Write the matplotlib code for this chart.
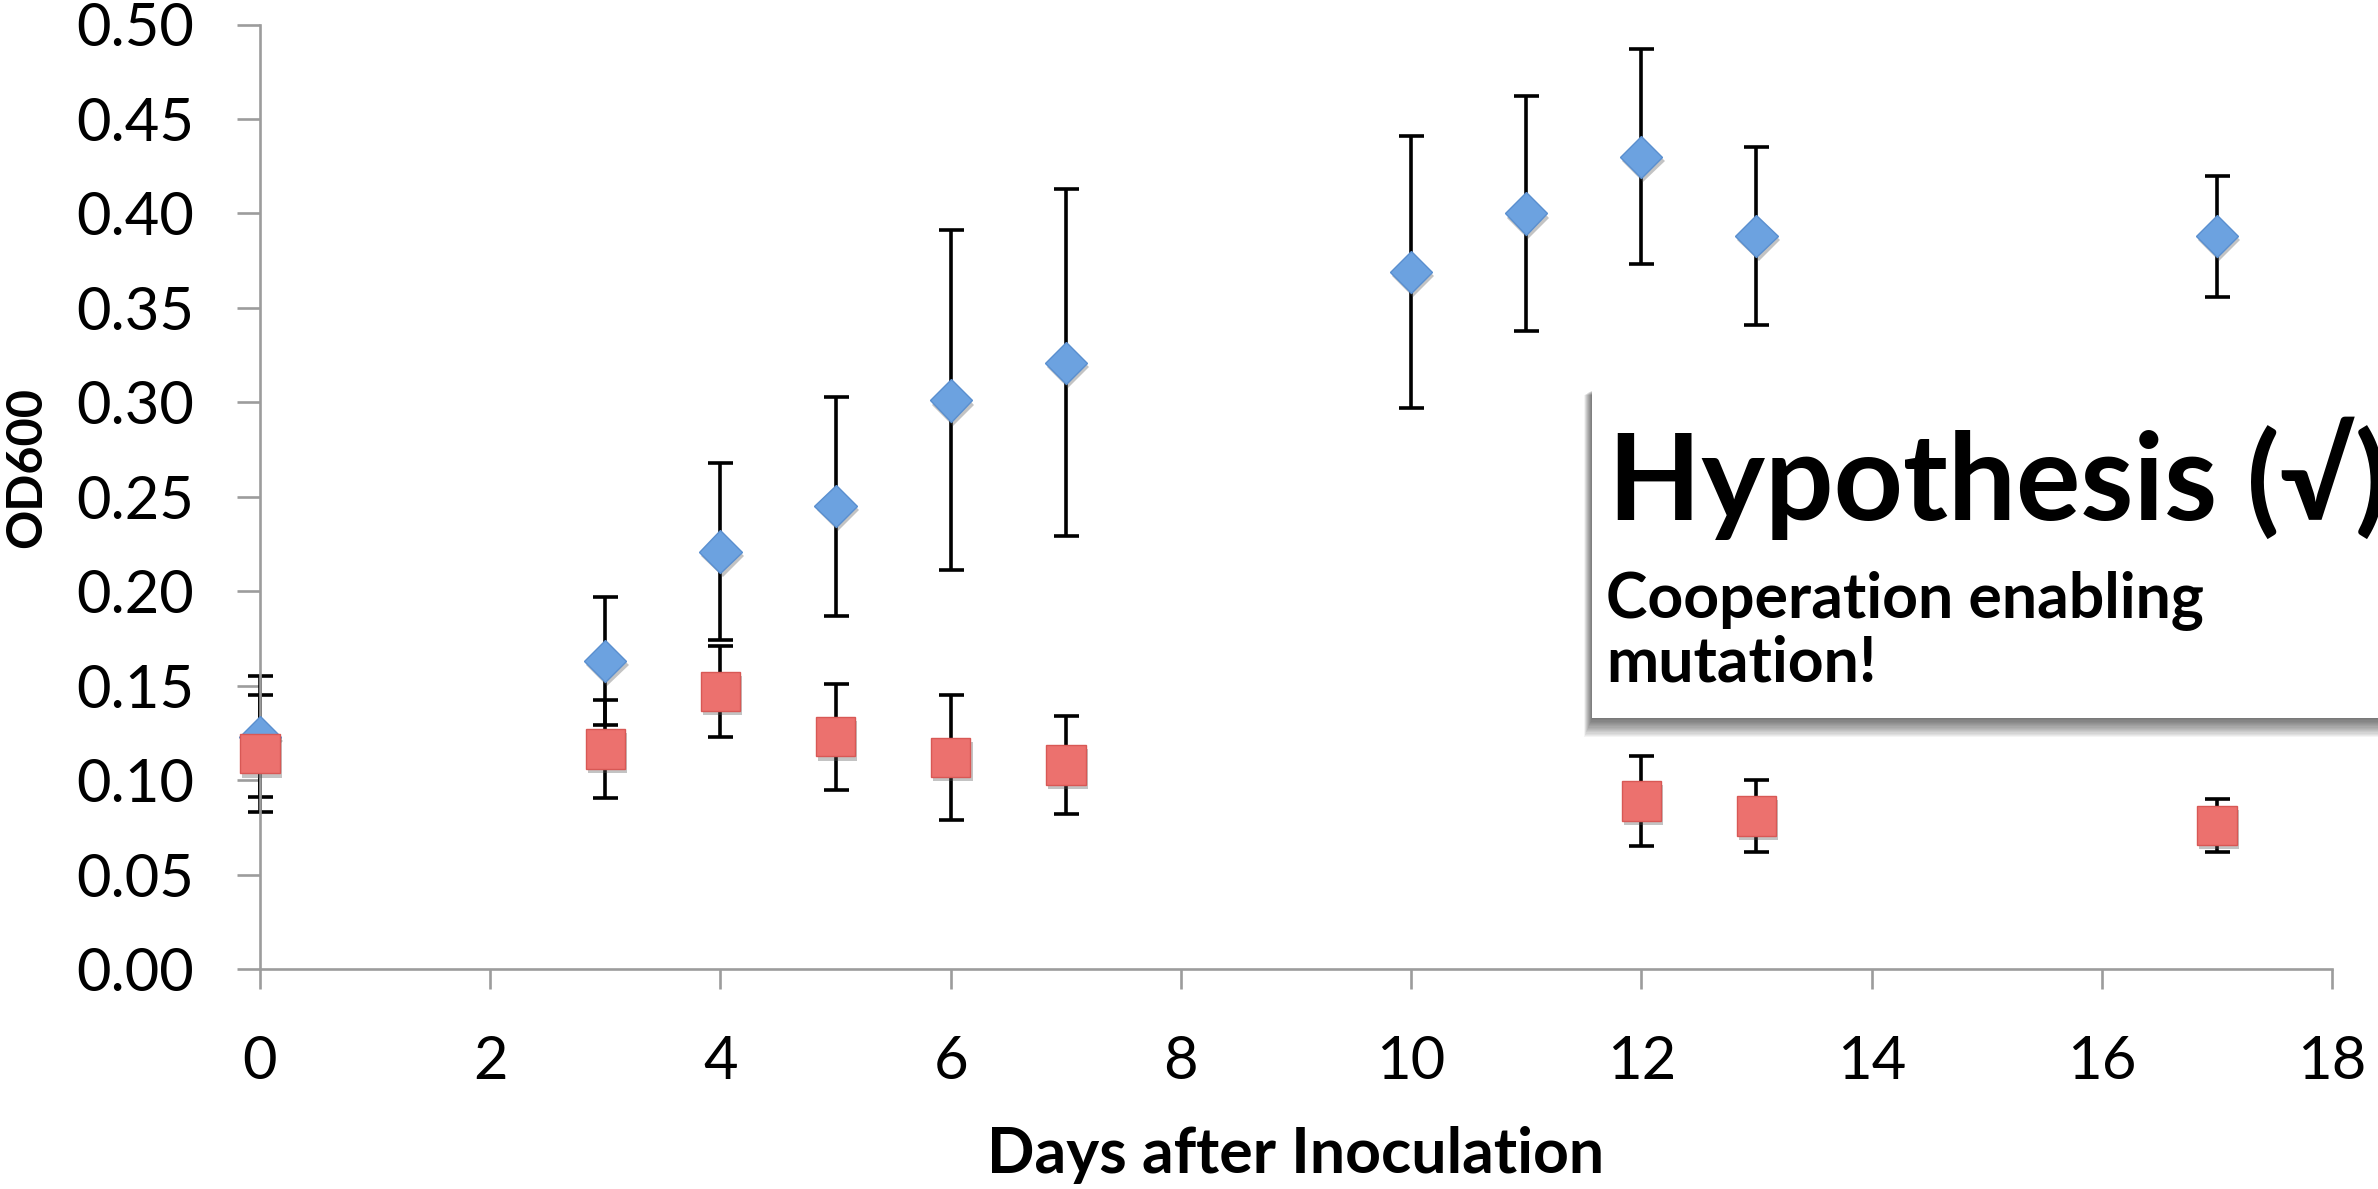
import matplotlib
matplotlib.use("Agg")
import matplotlib.pyplot as plt
import matplotlib.patheffects as pe
from matplotlib.patches import Rectangle

# ---- data ----
days_blue = [0, 3, 4, 5, 6, 7, 10, 11, 12, 13, 17]
od_blue = [0.123, 0.163, 0.221, 0.245, 0.301, 0.321, 0.369, 0.400, 0.430, 0.388, 0.388]
err_blue = [0.032, 0.034, 0.047, 0.058, 0.090, 0.092, 0.072, 0.062, 0.057, 0.047, 0.032]

days_red = [0, 3, 4, 5, 6, 7, 12, 13, 17]
od_red = [0.114, 0.1165, 0.147, 0.123, 0.112, 0.108, 0.089, 0.081, 0.076]
err_red = [0.031, 0.026, 0.024, 0.028, 0.033, 0.026, 0.024, 0.019, 0.014]

x_ticks = [0, 2, 4, 6, 8, 10, 12, 14, 16, 18]
y_ticks = [0.00, 0.05, 0.10, 0.15, 0.20, 0.25, 0.30, 0.35, 0.40, 0.45, 0.50]

x_label = "Days after Inoculation"
y_label = "OD600"
box_title = "Hypothesis (\u221a)"
box_line1 = "Cooperation enabling"
box_line2 = "mutation!"

FONT = ["Lato", "DejaVu Sans"]
plt.rcParams["font.family"] = FONT

W, H = 2378, 1189
fig = plt.figure(figsize=(W / 100, H / 100), dpi=100)
fig.patch.set_facecolor("white")

ax = fig.add_axes([260 / W, (H - 969) / H, (2332 - 260) / W, 944.5 / H])
ax.set_xlim(0, 18)
ax.set_ylim(0, 0.5)

axis_gray = "#9C9C9C"
for s in ["top", "right"]:
    ax.spines[s].set_visible(False)
for s in ["left", "bottom"]:
    ax.spines[s].set_color(axis_gray)
    ax.spines[s].set_linewidth(1.9)

ax.set_xticks(x_ticks)
ax.set_xticklabels([str(v) for v in x_ticks])
ax.set_yticks(y_ticks)
ax.set_yticklabels([f"{v:.2f}" for v in y_ticks])
ax.tick_params(axis="both", direction="out", color=axis_gray, width=1.9,
               labelsize=43, labelcolor="black")
ax.tick_params(axis="y", length=16.5, pad=31)
ax.tick_params(axis="x", length=14.5, pad=33)

# error bars (drawn beneath markers)
ekw = dict(fmt="none", ecolor="black", elinewidth=2.6, capsize=9, capthick=2.6,
           clip_on=False)
eb1 = ax.errorbar(days_blue, od_blue, yerr=err_blue, zorder=2, **ekw)
eb2 = ax.errorbar(days_red, od_red, yerr=err_red, zorder=2, **ekw)
for eb in (eb1, eb2):
    for art in eb.lines[1] + eb.lines[2]:
        art.set_clip_on(False)

shadow = [pe.SimplePatchShadow(offset=(1.5, -3), shadow_rgbFace="#555555", alpha=0.35),
          pe.Normal()]
ax.plot(days_blue, od_blue, linestyle="none", marker="D", markersize=21.5,
        markerfacecolor="#6CA2E0", markeredgecolor="#5A8FCF", markeredgewidth=1.0,
        zorder=3, clip_on=False, path_effects=shadow)
ax.plot(days_red, od_red, linestyle="none", marker="s", markersize=28.5,
        markerfacecolor="#EC716E", markeredgecolor="#D85855", markeredgewidth=1.0,
        zorder=4, clip_on=False, path_effects=shadow)

# axis titles
fig.text(1296 / W, (H - 1173) / H, x_label, ha="center", va="baseline",
         fontsize=45, fontweight="bold")
fig.text(27 / W, (H - 468) / H, y_label, ha="center", va="center", rotation=90,
         fontsize=35, fontweight="bold")

# hypothesis box with soft shadow
bx0, by_top, by_bot = 1592, 390, 718
for i in range(16, 0, -1):
    fig.add_artist(Rectangle(((bx0 - i * 0.5) / W, (H - by_bot - i * 1.2) / H),
                             (W - bx0 + 50) / W, (by_bot - by_top + i * 0.9) / H,
                             transform=fig.transFigure, facecolor="black",
                             edgecolor="none", alpha=0.045, zorder=9))
fig.add_artist(Rectangle((bx0 / W, (H - by_bot) / H), (W - bx0 + 50) / W,
                         (by_bot - by_top) / H, transform=fig.transFigure,
                         facecolor="white", edgecolor="none", zorder=10))
fig.text(1608 / W, (H - 520) / H, box_title, ha="left", va="baseline",
         fontsize=87, fontweight="bold", zorder=11)
fig.text(1606 / W, (H - 617) / H, box_line1, ha="left", va="baseline",
         fontsize=45, fontweight="bold", zorder=11)
fig.text(1606 / W, (H - 682) / H, box_line2, ha="left", va="baseline",
         fontsize=45, fontweight="bold", zorder=11)

fig.savefig("out.png", dpi=100, facecolor="white")
